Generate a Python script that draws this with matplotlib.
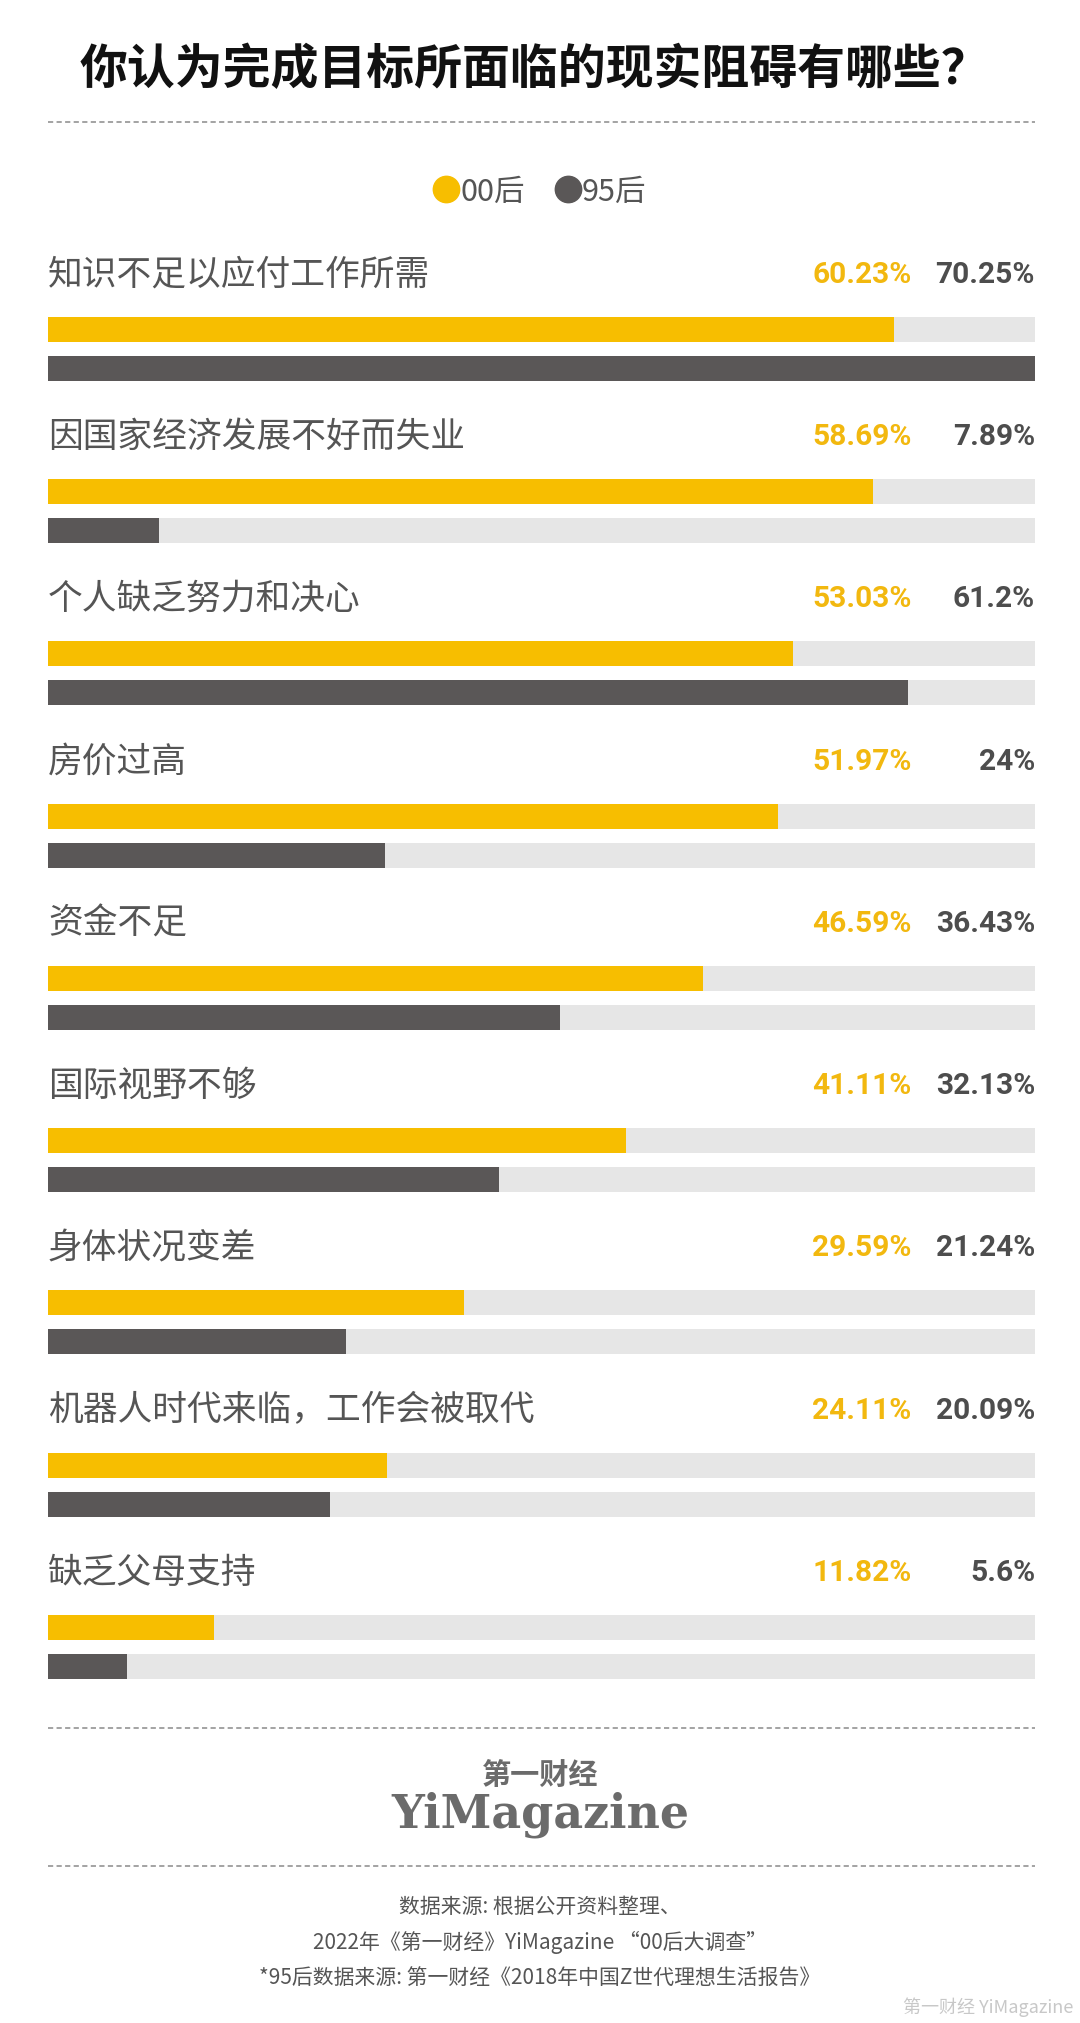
import matplotlib
matplotlib.use("Agg")
import matplotlib.pyplot as plt
from matplotlib.lines import Line2D

plt.rcParams['font.family'] = ['Noto Sans CJK SC', 'DejaVu Sans']

categories = ['知识不足以应付工作所需', '因国家经济发展不好而失业', '个人缺乏努力和决心', '房价过高',
              '资金不足', '国际视野不够', '身体状况变差', '机器人时代来临，工作会被取代', '缺乏父母支持']
gen00 = [60.23, 58.69, 53.03, 51.97, 46.59, 41.11, 29.59, 24.11, 11.82]
gen95 = [70.25, 7.89, 61.2, 24, 36.43, 32.13, 21.24, 20.09, 5.6]
labels00 = ['60.23%', '58.69%', '53.03%', '51.97%', '46.59%', '41.11%', '29.59%', '24.11%', '11.82%']
labels95 = ['70.25%', '7.89%', '61.2%', '24%', '36.43%', '32.13%', '21.24%', '20.09%', '5.6%']
legend_names = ['00后', '95后']

YELLOW = '#F7BE00'
YELLOW_TXT = '#F2B80F'
DARK = '#5A5757'
DARK_TXT = '#4D4D4D'
TRACK = '#E6E6E6'
LABEL = '#555555'

W, H = 1080, 2024
fig = plt.figure(figsize=(W / 100, H / 100), dpi=100)
fig.patch.set_facecolor('white')

# bar area, one unit of y = one category block
top_px, bot_px = 275 - 0.5 * 162.25, 275 + 8.8 * 162.25
ax = fig.add_axes([48 / W, 1 - bot_px / H, 987 / W, (bot_px - top_px) / H])
ax.set_xlim(0, max(gen95))
ax.set_ylim(8.8, -0.5)
ax.axis('off')

n = len(categories)
ys = list(range(n))
y00 = [y + 0.342 for y in ys]
y95 = [y + 0.582 for y in ys]
bh = 0.154
full = max(gen95)

ax.barh(y00, [full] * n, height=bh, color=TRACK, linewidth=0)
ax.barh(y95, [full] * n, height=bh, color=TRACK, linewidth=0)
ax.barh(y00, gen00, height=bh, color=YELLOW, linewidth=0)
ax.barh(y95, gen95, height=bh, color=DARK, linewidth=0)

tr = ax.get_yaxis_transform()
for i in range(n):
    ax.text(0, ys[i], categories[i], ha='left', va='center', fontsize=25,
            fontweight='light', color=LABEL)
    ax.text(0.875, ys[i], labels00[i], transform=tr, ha='right', va='center',
            fontsize=21.5, fontweight='bold', color=YELLOW_TXT, family='Roboto')
    ax.text(1.0, ys[i], labels95[i], transform=tr, ha='right', va='center',
            fontsize=21.5, fontweight='bold', color=DARK_TXT, family='Roboto')

# title
fig.text(534 / W, 1 - 70 / H, '你认为完成目标所面临的现实阻碍有哪些？', ha='center', va='center',
         fontsize=34.5, fontweight='bold', color='#111111')

# dashed separators
for yp in [123, 1729, 1867]:
    fig.add_artist(Line2D([48 / W, 1035 / W], [1 - yp / H] * 2, transform=fig.transFigure,
                          color='#8a8a8a', linewidth=1.1, dashes=(3.4, 2.2)))

# legend
handles = [Line2D([], [], marker='o', linestyle='none', markersize=19, color=YELLOW),
           Line2D([], [], marker='o', linestyle='none', markersize=19, color=DARK)]
fig.legend(handles, legend_names, loc='center', bbox_to_anchor=(0.5, 1 - 192 / H), ncol=2,
           frameon=False, handlelength=0.8, handletextpad=0.05,
           columnspacing=1.0, labelcolor=LABEL, prop={'weight': 'light', 'size': 22})

# logo
fig.text(0.5, 1 - 1775 / H, '第一财经', ha='center', va='center', fontsize=21,
         fontweight='bold', color='#6b6b6b')
fig.text(0.5, 1 - 1815 / H, 'YiMagazine', ha='center', va='center', fontsize=33,
         fontweight='bold', color='#6b6b6b', family='DejaVu Serif')

# sources
sources = ['数据来源: 根据公开资料整理、',
           '2022年《第一财经》YiMagazine “00后大调查”',
           '*95后数据来源: 第一财经《2018年中国Z世代理想生活报告》']
for k, s in enumerate(sources):
    fig.text(0.5, 1 - (1907 + 35.5 * k) / H, s, ha='center', va='center', fontsize=15,
             fontweight='light', color=LABEL)

fig.text(1073 / W, 1 - 2007 / H, '第一财经 YiMagazine', ha='right', va='center', fontsize=13,
         color='#c8c8c8')

fig.savefig('out.png', dpi=100, facecolor='white')
